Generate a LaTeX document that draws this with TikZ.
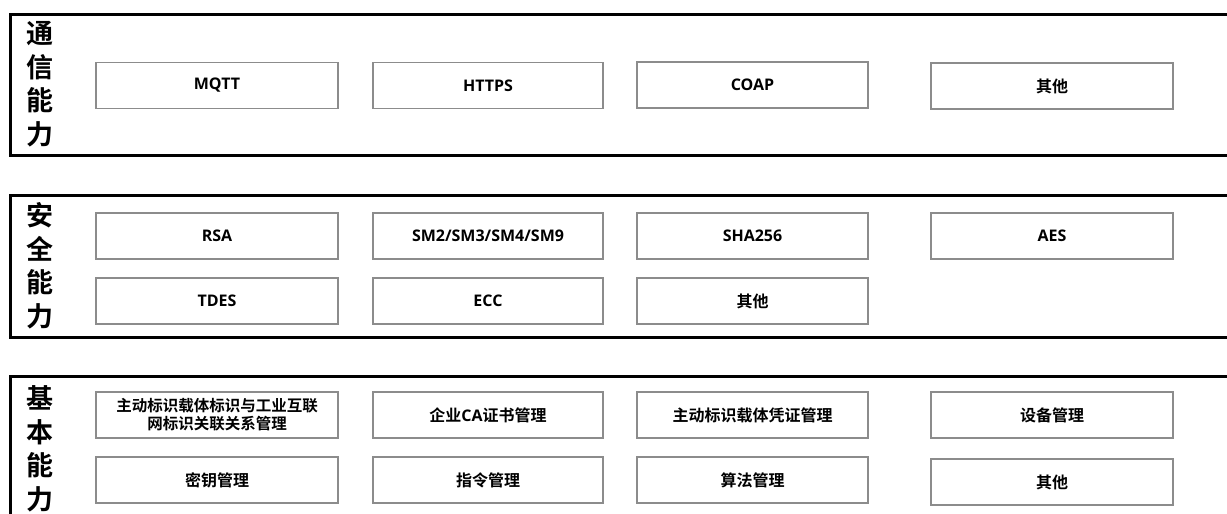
\documentclass[tikz,border=0pt]{standalone}
\usepackage{fontspec}
\setmainfont{Noto Sans CJK SC}[BoldFont={Noto Sans CJK SC Bold}]
\newfontfamily\cjkb{Noto Sans CJK SC Bold}
\newfontfamily\latb{Open Sans}[UprightFont={* Bold}]
\newcommand{\lt}[1]{{\latb #1}}
\begin{document}
\begin{tikzpicture}[x=1pt,y=-1pt,
  panel/.style={draw=black,line width=3pt},
  item/.style={draw=black!45,line width=1.3pt,fill=white,minimum height=46pt,
    inner sep=0pt,font=\cjkb\fontsize{16}{18}\selectfont,align=center},
  side/.style={font=\cjkb\fontsize{27}{33.5}\selectfont,align=center,inner sep=0pt}]
\useasboundingbox (0,0) rectangle (1227,514);
\clip (0,0) rectangle (1227,514);
\fill[white] (0,0) rectangle (1227,514);
% panels
\draw[panel] (1240,14) -- (10,14) -- (10,155) -- (1240,155);
\draw[panel] (1240,195) -- (10,195) -- (10,337) -- (1240,337);
\draw[panel] (1240,376) -- (10,376) -- (10,520);
% side labels
\node[side] (l1) at (40,84) {通\\信\\能\\力};
\node[side] (l2) at (40,266) {安\\全\\能\\力};
\node[side] (l3) at (40,449) {基\\本\\能\\力};
% column widths
\def\colwa{242pt}\def\colwb{230pt}\def\colwc{231pt}\def\colwd{242pt}
% panel 1
\node[item,minimum width=\colwa] (mqtt) at (217,85.5) {\lt{MQTT}};
\node[item,minimum width=\colwb] (https) at (488,85.5) {\lt{HTTPS}};
\node[item,minimum width=\colwc] (coap) at (752.5,85) {\lt{COAP}};
\node[item,minimum width=\colwd] (oth1) at (1052,86) {其他};
% panel 2
\node[item,minimum width=\colwa] (rsa) at (217,236) {\lt{RSA}};
\node[item,minimum width=\colwb] (sm) at (488,236) {\lt{SM2/SM3/SM4/SM9}};
\node[item,minimum width=\colwc] (sha) at (752.5,236) {\lt{SHA256}};
\node[item,minimum width=\colwd] (aes) at (1052,236) {\lt{AES}};
\node[item,minimum width=\colwa] (tdes) at (217,301) {\lt{TDES}};
\node[item,minimum width=\colwb] (ecc) at (488,301) {\lt{ECC}};
\node[item,minimum width=\colwc] (oth2) at (752.5,301) {其他};
% panel 3
\node[item,minimum width=\colwa,font=\cjkb\fontsize{15.5}{18}\selectfont] (rel) at (217,415) {主动标识载体标识与工业互联\\网标识关联关系管理};
\node[item,minimum width=\colwb] (ca) at (488,415) {企业\lt{CA}证书管理};
\node[item,minimum width=\colwc] (cred) at (752.5,415) {主动标识载体凭证管理};
\node[item,minimum width=\colwd] (dev) at (1052,415) {设备管理};
\node[item,minimum width=\colwa] (key) at (217,480) {密钥管理};
\node[item,minimum width=\colwb] (cmd) at (488,480) {指令管理};
\node[item,minimum width=\colwc] (alg) at (752.5,480) {算法管理};
\node[item,minimum width=\colwd] (oth3) at (1052,482) {其他};
\end{tikzpicture}
\end{document}
